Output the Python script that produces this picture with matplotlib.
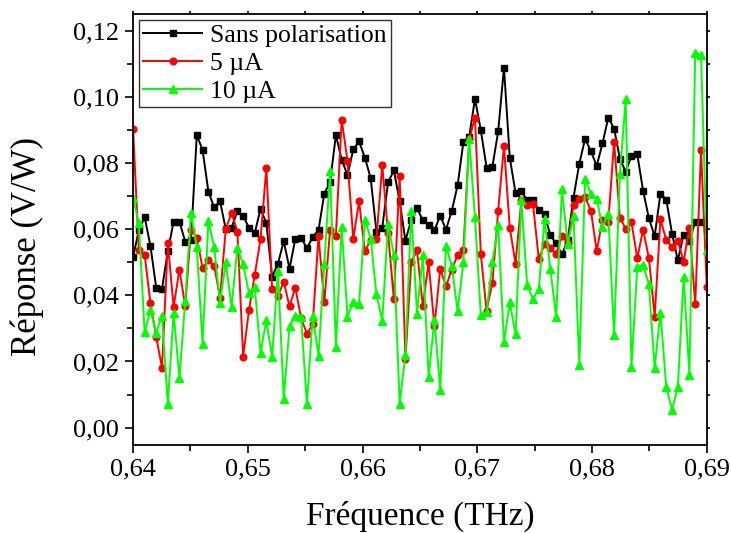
import matplotlib
matplotlib.use("Agg")
import matplotlib.pyplot as plt
import numpy as np
from matplotlib.ticker import MultipleLocator, FuncFormatter

plt.rcParams['font.family'] = ['Liberation Serif', 'DejaVu Serif']

# frequency axis: 100 points, 0.64 -> 0.69 THz
freq = 0.64 + np.arange(100) * 0.000505

sans_pol = [0.0516, 0.0597, 0.0637, 0.0550, 0.0423, 0.0420, 0.0534, 0.0623, 0.0623, 0.0563,
            0.0569, 0.0885, 0.0840, 0.0714, 0.0666, 0.0686, 0.0600, 0.0605, 0.0655, 0.0640,
            0.0605, 0.0589, 0.0662, 0.0619, 0.0456, 0.0496, 0.0564, 0.0481, 0.0571, 0.0575,
            0.0542, 0.0577, 0.0597, 0.0708, 0.0743, 0.0885, 0.0811, 0.0764, 0.0842, 0.0866,
            0.0817, 0.0755, 0.0592, 0.0605, 0.0742, 0.0778, 0.0685, 0.0565, 0.0629, 0.0664,
            0.0627, 0.0614, 0.0597, 0.0641, 0.0599, 0.0656, 0.0733, 0.0864, 0.0880, 0.0995,
            0.0900, 0.0787, 0.0789, 0.0896, 0.1089, 0.0817, 0.0710, 0.0715, 0.0688, 0.0690,
            0.0657, 0.0645, 0.0582, 0.0557, 0.0524, 0.0567, 0.0696, 0.0799, 0.0874, 0.0836,
            0.0792, 0.0860, 0.0938, 0.0905, 0.0814, 0.0774, 0.0823, 0.0827, 0.0717, 0.0634,
            0.0579, 0.0708, 0.0690, 0.0587, 0.0506, 0.0584, 0.0564, 0.0623, 0.0622, 0.0602]

i5uA = [0.0905, 0.0536, 0.0523, 0.0377, 0.0274, 0.0181, 0.0560, 0.0365, 0.0478, 0.0368,
        0.0599, 0.0575, 0.0482, 0.0508, 0.0490, 0.0393, 0.0600, 0.0650, 0.0593, 0.0215,
        0.0355, 0.0462, 0.0571, 0.0786, 0.0419, 0.0399, 0.0441, 0.0367, 0.0423, 0.0331,
        0.0284, 0.0312, 0.0579, 0.0379, 0.0599, 0.0581, 0.0932, 0.0807, 0.0571, 0.0685,
        0.0533, 0.0568, 0.0572, 0.0794, 0.0588, 0.0389, 0.0762, 0.0207, 0.0500, 0.0536,
        0.0368, 0.0500, 0.0306, 0.0480, 0.0428, 0.0478, 0.0522, 0.0538, 0.0872, 0.0938,
        0.0526, 0.0354, 0.0438, 0.0656, 0.0852, 0.0605, 0.0496, 0.0688, 0.0675, 0.0678,
        0.0511, 0.0554, 0.0543, 0.0526, 0.0579, 0.0559, 0.0673, 0.0691, 0.0698, 0.0656,
        0.0534, 0.0629, 0.0622, 0.0865, 0.0635, 0.0602, 0.0622, 0.0512, 0.0599, 0.0513,
        0.0336, 0.0631, 0.0567, 0.0547, 0.0565, 0.0502, 0.0605, 0.0373, 0.0839, 0.0425]

i10uA = [0.0695, 0.0619, 0.0288, 0.0355, 0.0286, 0.0338, 0.0070, 0.0347, 0.0150, 0.0383,
         0.0650, 0.0546, 0.0254, 0.0625, 0.0546, 0.0377, 0.0500, 0.0365, 0.0544, 0.0494,
         0.0407, 0.0425, 0.0227, 0.0324, 0.0213, 0.0474, 0.0087, 0.0306, 0.0339, 0.0336,
         0.0070, 0.0338, 0.0218, 0.0494, 0.0777, 0.0245, 0.0607, 0.0336, 0.0380, 0.0373,
         0.0629, 0.0572, 0.0403, 0.0323, 0.0615, 0.0523, 0.0072, 0.0221, 0.0656, 0.0344,
         0.0521, 0.0154, 0.0326, 0.0114, 0.0550, 0.0488, 0.0352, 0.0500, 0.0872, 0.0636,
         0.0342, 0.0349, 0.0501, 0.0612, 0.0259, 0.0379, 0.0282, 0.0688, 0.0432, 0.0389,
         0.0419, 0.0630, 0.0481, 0.0334, 0.0721, 0.0555, 0.0639, 0.0189, 0.0753, 0.0706,
         0.0693, 0.0607, 0.0647, 0.0279, 0.0768, 0.0993, 0.0184, 0.0486, 0.0491, 0.0435,
         0.0181, 0.0348, 0.0122, 0.0054, 0.0123, 0.0456, 0.0160, 0.1135, 0.1127, 0.0536]

fig = plt.figure(figsize=(7.31, 5.33), dpi=100)
ax = fig.add_axes([0.182, 0.165, 0.785, 0.809])

ax.plot(freq, sans_pol, color='black', marker='s', markersize=4.3, lw=1.4, label='Sans polarisation')
ax.plot(freq, i5uA, color='#ff0000', marker='o', markersize=4.8, lw=1.4, label='5 µA')
ax.plot(freq, i10uA, color='#00ff00', marker='^', markersize=5.2, lw=1.4, label='10 µA')

ax.set_xlim(0.64, 0.69)
ax.set_ylim(-0.0053, 0.1252)
ax.xaxis.set_major_locator(MultipleLocator(0.01))
ax.xaxis.set_minor_locator(MultipleLocator(0.005))
ax.yaxis.set_major_locator(MultipleLocator(0.02))
ax.yaxis.set_minor_locator(MultipleLocator(0.01))
comma = FuncFormatter(lambda v, p: ('%.2f' % v).replace('.', ','))
ax.xaxis.set_major_formatter(comma)
ax.yaxis.set_major_formatter(comma)

ax.tick_params(which='both', direction='out', labelsize=19, width=1.2)
ax.tick_params(which='major', length=6, pad=4)
ax.tick_params(which='minor', length=4)
ax.tick_params(which='both', top=True, right=True)
for t in ax.xaxis.get_ticklines(minor=False)[1::2] + ax.xaxis.get_ticklines(minor=True)[1::2]:
    t.set_markersize(2)
for t in ax.yaxis.get_ticklines(minor=False)[1::2] + ax.yaxis.get_ticklines(minor=True)[1::2]:
    t.set_markersize(2)
for s in ax.spines.values():
    s.set_linewidth(1.3)

ax.set_xlabel('Fréquence (THz)', fontsize=24)
ax.set_ylabel('Réponse (V/W)', fontsize=25)
ax.xaxis.set_label_coords(0.5, -0.13)
ax.yaxis.set_label_coords(-0.155, 0.46)

leg = ax.legend(loc='upper left', fontsize=18.5, numpoints=1, handlelength=2.3,
                frameon=True, fancybox=False, borderaxespad=0.25,
                borderpad=0.15, labelspacing=0.2, handletextpad=0.3)
leg.get_frame().set_edgecolor('black')
leg.get_frame().set_linewidth(1.0)

fig.savefig('out.png', dpi=100)
